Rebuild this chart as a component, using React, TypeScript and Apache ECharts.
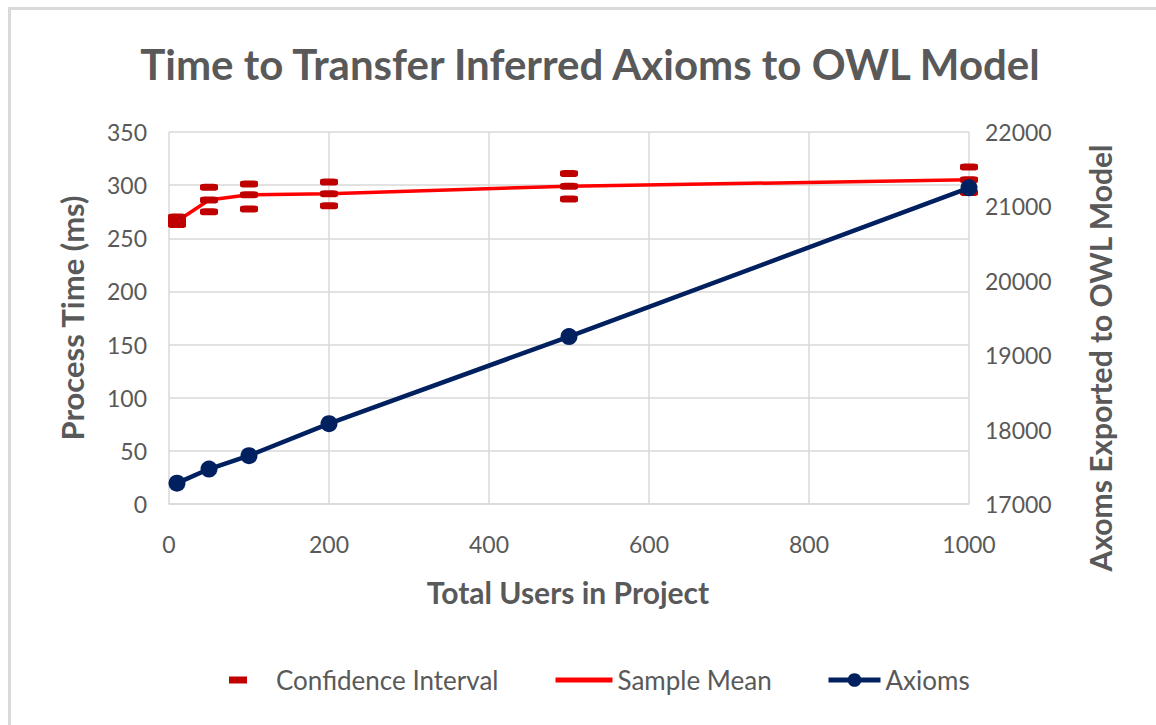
import React, { useEffect, useRef } from "react";
import * as echarts from "echarts";

const users = [10, 50, 100, 200, 500, 1000];
const sampleMean = [266, 286, 291, 292, 299, 305];
const ciUpper = [270, 298, 301, 303, 311, 317];
const ciLower = [263, 275, 277.5, 280.5, 287, 293];
const axioms = [17280, 17470, 17650, 18080, 19250, 21250];
const leftTicks = { min: 0, max: 350, interval: 50 };
const rightTicks = { min: 17000, max: 22000, interval: 1000 };
const xTicks = { min: 0, max: 1000, interval: 200 };

const FONT = "Lato, 'Open Sans', sans-serif";
const GRAY = "#595959";
const GRID = "#d9d9d9";

export default function App() {
  const ref = useRef<HTMLDivElement>(null);
  useEffect(() => {
    document.body.style.margin = "0";
    const chart = echarts.init(ref.current!, null, { renderer: "svg" });
    const ciData: number[][] = [];
    users.forEach((u, i) => {
      ciData.push([u, ciUpper[i]]);
      ciData.push([u, sampleMean[i]]);
      ciData.push([u, ciLower[i]]);
    });
    const plain = (v: number) => String(v);
    const labelStyle = { color: GRAY, fontSize: 23, fontFamily: FONT, formatter: plain };
    const legendText = { color: GRAY, fontSize: 26, fontFamily: FONT };
    chart.setOption({
      animation: false,
      backgroundColor: "#ffffff",
      textStyle: { fontFamily: FONT },
      title: {
        text: "Time to Transfer Inferred Axioms to OWL Model",
        left: 585,
        textAlign: "center",
        top: 38,
        textStyle: { color: GRAY, fontSize: 42, fontWeight: "bold", fontFamily: FONT },
      },
      grid: { left: 169, right: 187, top: 132, bottom: 221 },
      xAxis: {
        type: "value",
        ...xTicks,
        axisLine: { show: true, lineStyle: { color: GRID, width: 1.5 } },
        axisTick: { show: false },
        splitLine: { show: true, lineStyle: { color: GRID, width: 1.5 } },
        axisLabel: { ...labelStyle, margin: 28 },
      },
      yAxis: [
        {
          type: "value",
          ...leftTicks,
          axisLine: { show: false },
          axisTick: { show: false },
          splitLine: { show: true, lineStyle: { color: GRID, width: 1.5 } },
          axisLabel: { ...labelStyle, margin: 22 },
        },
        {
          type: "value",
          ...rightTicks,
          position: "right",
          axisLine: { show: false },
          axisTick: { show: false },
          splitLine: { show: false },
          axisLabel: { ...labelStyle, margin: 16 },
        },
      ],
      legend: [
        {
          data: ["Confidence Interval"],
          left: 224,
          top: 662,
          itemWidth: 18,
          itemHeight: 7,
          icon: "rect",
          itemStyle: { color: "#c00000", opacity: 1 },
          textStyle: { ...legendText, padding: [0, 0, 0, 24] },
        },
        {
          data: ["Sample Mean"],
          left: 548,
          top: 662,
          itemWidth: 57,
          itemHeight: 14,
          itemStyle: { opacity: 0 },
          lineStyle: { width: 5, color: "#ff0000", opacity: 1 },
          textStyle: legendText,
        },
        {
          data: ["Axioms"],
          left: 821,
          top: 662,
          itemWidth: 52,
          itemHeight: 17,
          lineStyle: { width: 5 },
          textStyle: legendText,
        },
      ],
      graphic: [
        {
          type: "rect",
          shape: { x: 9.5, y: 8.5, width: 1300, height: 900 },
          style: { fill: "none", stroke: GRID, lineWidth: 3 },
          silent: true,
        },
        {
          type: "text",
          x: 72,
          y: 318,
          rotation: Math.PI / 2,
          style: {
            text: "Process Time (ms)",
            fill: GRAY,
            font: `bold 31px ${FONT}`,
            textAlign: "center",
            textVerticalAlign: "middle",
          },
        },
        {
          type: "text",
          x: 1100,
          y: 358,
          rotation: Math.PI / 2,
          style: {
            text: "Axoms Exported to OWL Model",
            fill: GRAY,
            font: `bold 30px ${FONT}`,
            textAlign: "center",
            textVerticalAlign: "middle",
          },
        },
        {
          type: "text",
          x: 568,
          y: 592,
          style: {
            text: "Total Users in Project",
            fill: GRAY,
            font: `bold 30px ${FONT}`,
            textAlign: "center",
            textVerticalAlign: "middle",
          },
        },
      ],
      series: [
        {
          name: "Confidence Interval",
          type: "scatter",
          data: ciData,
          symbol: "roundRect",
          symbolSize: [18, 7],
          itemStyle: { color: "#c00000", opacity: 1 },
          z: 3,
        },
        {
          name: "Sample Mean",
          type: "line",
          data: users.map((u, i) => [u, sampleMean[i]]),
          showSymbol: false,
          symbol: "none",
          lineStyle: { color: "#ff0000", width: 3.5 },
          itemStyle: { color: "#ff0000" },
          z: 2,
        },
        {
          name: "Axioms",
          type: "line",
          yAxisIndex: 1,
          data: users.map((u, i) => [u, axioms[i]]),
          symbol: "circle",
          symbolSize: 17,
          lineStyle: { color: "#002060", width: 4.5 },
          itemStyle: { color: "#002060" },
          z: 4,
        },
      ],
    });
    return () => chart.dispose();
  }, []);
  return <div ref={ref} style={{ width: 1156, height: 725 }} />;
}
